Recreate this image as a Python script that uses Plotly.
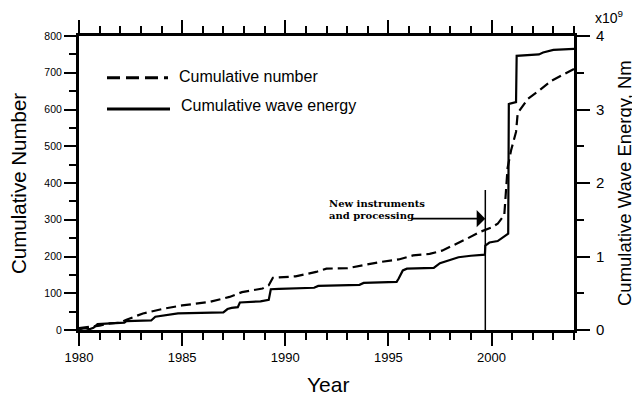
import plotly.graph_objects as go

# ---- data ----
years_number = [1980.0, 1980.5, 1981.0, 1981.5, 1982.0, 1982.3, 1983.1, 1984.1, 1985.0,
                1986.3, 1987.3, 1987.9, 1988.9, 1989.2, 1989.4, 1990.5, 1991.5, 1992.0,
                1993.0, 1994.6, 1995.5, 1996.2, 1997.0, 1997.6, 1998.3, 1998.8, 1999.4,
                2000.0, 2000.3, 2000.62, 2000.78, 2000.95, 2001.19, 2001.27, 2001.76,
                2002.3, 2002.9, 2003.4, 2004.0]
cumulative_number = [5, 8, 12, 18, 20, 28, 45, 58, 67, 76, 90, 103, 113, 122, 142, 146, 158,
                     167, 168, 185, 192, 203, 207, 216, 234, 248, 266, 279, 289, 313, 441,
                     489, 539, 590, 629, 651, 678, 692, 710]

years_energy = [1980.0, 1980.3, 1980.5, 1980.7, 1980.9, 1981.5, 1982.2, 1982.3, 1983.5,
                1983.7, 1984.2, 1984.8, 1987.0, 1987.2, 1987.4, 1987.7, 1987.8, 1988.8,
                1989.2, 1989.3, 1989.7, 1991.4, 1991.6, 1993.6, 1993.8, 1995.4, 1995.5,
                1995.7, 1995.9, 1997.2, 1997.5, 1997.8, 1998.4, 1999.0, 1999.68, 1999.7,
                1999.9, 2000.3, 2000.7, 2000.81, 2000.84, 2001.19, 2001.22, 2002.3, 2002.5,
                2003.0, 2004.0]
# cumulative wave energy in units of 1e9 Nm
cumulative_energy = [0.010, 0.025, 0.010, 0.030, 0.080, 0.090, 0.100, 0.120, 0.130, 0.180,
                     0.200, 0.225, 0.240, 0.285, 0.300, 0.310, 0.375, 0.390, 0.410, 0.555,
                     0.560, 0.575, 0.600, 0.615, 0.640, 0.655, 0.700, 0.810, 0.835, 0.845,
                     0.910, 0.940, 0.990, 1.010, 1.025, 1.150, 1.190, 1.210, 1.290, 1.310,
                     3.075, 3.100, 3.730, 3.750, 3.775, 3.810, 3.825]

x_tick_years = [1980, 1985, 1990, 1995, 2000]
left_ticks = [0, 100, 200, 300, 400, 500, 600, 700, 800]
right_ticks = [0, 1, 2, 3, 4]

instrument_change_year = 1999.7
instrument_line_top = 381
arrow_start_year = 1996.05
arrow_level = 303

FONT = "Liberation Sans, Arial, Helvetica, sans-serif"
SERIF = "DejaVu Serif, serif"

fig = go.Figure()
fig.add_trace(go.Scatter(x=years_number, y=cumulative_number, mode="lines",
                         line=dict(color="black", width=2.2, dash="10px,5px"),
                         name="Cumulative number", yaxis="y"))
fig.add_trace(go.Scatter(x=years_energy, y=cumulative_energy, mode="lines",
                         line=dict(color="black", width=2.2),
                         name="Cumulative wave energy", yaxis="y2"))

# vertical reference line
fig.add_shape(type="line", xref="x", yref="y", x0=instrument_change_year, x1=instrument_change_year,
              y0=0, y1=instrument_line_top, line=dict(color="black", width=1.5))

# page pixel -> paper coordinates (plot area spans x 79..574, y 34..330 in the page)
def px_x(p):
    return (p - 79) / 495.0

def px_y(p):
    return (330 - p) / 296.0

# legend keys
fig.add_shape(type="line", xref="paper", yref="paper", x0=px_x(107), x1=px_x(168),
              y0=px_y(76), y1=px_y(76), line=dict(color="black", width=3, dash="13px,6px"))
fig.add_shape(type="line", xref="paper", yref="paper", x0=px_x(107), x1=px_x(170),
              y0=px_y(107.5), y1=px_y(107.5), line=dict(color="black", width=3))

annotations = [
    dict(text="Cumulative number", x=px_x(177), y=px_y(75), xref="paper", yref="paper",
         xanchor="left", yanchor="middle", showarrow=False, font=dict(family=FONT, size=16)),
    dict(text="Cumulative wave energy", x=px_x(179), y=px_y(104), xref="paper", yref="paper",
         xanchor="left", yanchor="middle", showarrow=False, font=dict(family=FONT, size=16)),
    dict(text="Cumulative Number", x=px_x(19), y=px_y(183), xref="paper", yref="paper",
         xanchor="center", yanchor="middle", textangle=-90, showarrow=False,
         font=dict(family=FONT, size=20.5)),
    dict(text="Cumulative Wave Energy, Nm", x=px_x(624), y=px_y(182), xref="paper", yref="paper",
         xanchor="center", yanchor="middle", textangle=-90, showarrow=False,
         font=dict(family=FONT, size=18.5)),
    dict(text="Year", x=px_x(328), y=px_y(385), xref="paper", yref="paper",
         xanchor="center", yanchor="middle", showarrow=False, font=dict(family=FONT, size=21)),
    dict(text="x10<sup>9</sup>", x=px_x(593), y=px_y(15), xref="paper", yref="paper",
         xanchor="left", yanchor="middle", showarrow=False, font=dict(family=FONT, size=14)),
    dict(text="New instruments", x=px_x(327), y=px_y(202.5), xref="paper",
         yref="paper", xanchor="left", yanchor="middle", showarrow=False,
         font=dict(family=SERIF, size=10, color="black", weight="bold")),
    dict(text="and processing", x=px_x(327), y=px_y(215), xref="paper",
         yref="paper", xanchor="left", yanchor="middle", showarrow=False,
         font=dict(family=SERIF, size=10, color="black", weight="bold")),
    dict(text="", x=instrument_change_year, y=arrow_level, xref="x", yref="y",
         ax=arrow_start_year, ay=arrow_level, axref="x", ayref="y", showarrow=True,
         arrowhead=1, arrowsize=1.6, arrowwidth=1.8, arrowcolor="black", standoff=0),
]

# the page adds an 8px body margin, so the figure is 8px smaller and margins compensate
fig.update_layout(
    width=632, height=388,
    margin=dict(l=71, r=66, t=26, b=66),
    paper_bgcolor="white", plot_bgcolor="white",
    showlegend=False,
    font=dict(family=FONT, color="black"),
    annotations=annotations,
    xaxis=dict(range=[1980, 2004], tickvals=x_tick_years, ticktext=[str(v) for v in x_tick_years],
               ticks="outside", ticklen=13, tickwidth=2, tickcolor="black",
               minor=dict(dtick=1, tick0=1980, ticks="outside", ticklen=7, tickwidth=2, tickcolor="black"),
               showline=True, linewidth=3, linecolor="black", mirror="ticks",
               showgrid=False, zeroline=False, tickfont=dict(size=13, family=FONT)),
    yaxis=dict(range=[0, 800], tickvals=left_ticks, ticktext=[str(v) for v in left_ticks],
               ticks="outside", ticklen=12, tickwidth=2, tickcolor="black",
               minor=dict(dtick=50, tick0=0, ticks="outside", ticklen=7, tickwidth=2, tickcolor="black"),
               showline=True, linewidth=3, linecolor="black",
               showgrid=False, zeroline=False, tickfont=dict(size=10.5, family=FONT)),
    yaxis2=dict(range=[0, 4], tickvals=right_ticks, ticktext=[str(v) for v in right_ticks],
                overlaying="y", side="right",
                ticks="outside", ticklen=13, tickwidth=2, tickcolor="black", ticklabelstandoff=3,
                minor=dict(dtick=0.5, tick0=0, ticks="outside", ticklen=7, tickwidth=2, tickcolor="black"),
                showline=True, linewidth=3, linecolor="black",
                showgrid=False, zeroline=False, tickfont=dict(size=15, family=FONT)),
)

fig.write_html("out.html")
